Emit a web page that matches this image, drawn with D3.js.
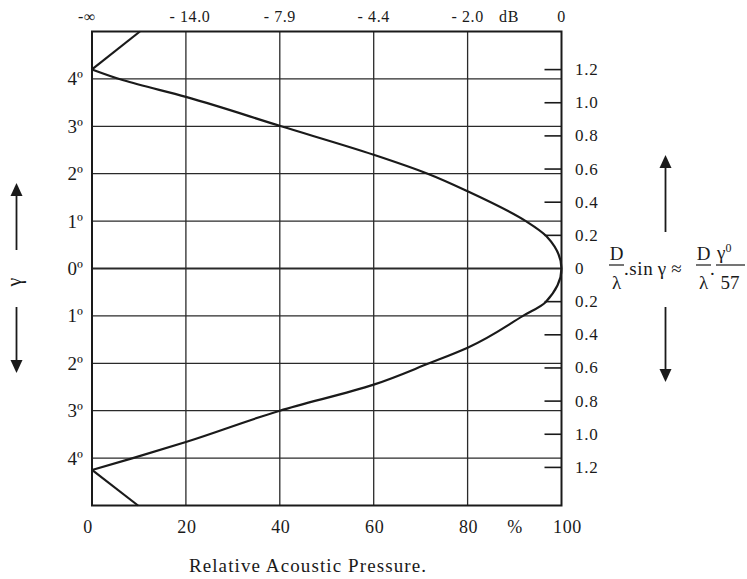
<!DOCTYPE html>
<html>
<head>
<meta charset="utf-8">
<script src="https://cdn.jsdelivr.net/npm/d3@7"></script>
<style>
  html, body { margin: 0; padding: 0; background: #fff; }
  svg { display: block; font-family: "Liberation Serif", "Times New Roman", serif; }
</style>
</head>
<body>
<svg id="chart" width="747" height="579"></svg>
<script>
// Off-axis angle gamma (degrees, + above axis, - below) and relative pressure (%)
const lobeAngle = [4.2, 3.97, 3.62, 3.0, 2.4, 2.0, 1.63, 1.0, 0.68, 0, -0.71, -1.0, -1.67, -2.0, -2.45, -3.0, -3.66, -4.0, -4.25];
const lobePct   = [0,   6.7,  20,   40.3, 60,  71.5, 80,  92.4, 96.8, 100, 96.6, 91.8, 80,   71.8, 60,    40,   20,    8.7,  0];

// first side lobes beyond the null
const sideUpperAngle = [4.2, 5.0];
const sideUpperPct   = [0, 10.2];
const sideLowerAngle = [-4.25, -5.0];
const sideLowerPct   = [0, 9.8];

// axis ticks and labels
const pctTicks   = [0, 20, 40, 60, 80, 100];
const dbLabels   = ["-\u221E", "- 14.0", "- 7.9", "- 4.4", "- 2.0", "0"];
const angleTicks = [4, 3, 2, 1, 0, -1, -2, -3, -4];
const paramTicks = [1.2, 1.0, 0.8, 0.6, 0.4, 0.2, 0, -0.2, -0.4, -0.6, -0.8, -1.0, -1.2];
const dOverLambda = 16.3;

const svg = d3.select("#chart");

const x = d3.scaleLinear().domain([0, 100]).range([92, 561.5]);
const y = d3.scaleLinear().domain([5, -5]).range([31.5, 505.5]);
// D/lambda * gamma/57 expressed on the same vertical range
const yParam = d3.scaleLinear()
  .domain([5 * dOverLambda / 57, -5 * dOverLambda / 57])
  .range(y.range());

const ink = "#1a1a1a";

// grid
const grid = svg.append("g").attr("stroke", "#2a2a2a").attr("stroke-width", 1.3);
grid.selectAll("line.v").data(pctTicks.slice(1, -1)).join("line")
  .attr("class", "v")
  .attr("x1", d => x(d)).attr("x2", d => x(d))
  .attr("y1", y(5)).attr("y2", y(-5));
grid.selectAll("line.h").data(angleTicks).join("line")
  .attr("class", "h")
  .attr("x1", x(0)).attr("x2", x(100))
  .attr("y1", d => y(d)).attr("y2", d => y(d))
  .attr("stroke-width", d => d === 0 ? 1.8 : 1.3);

// right-hand parameter ticks (drawn inward)
svg.append("g").attr("stroke", ink).attr("stroke-width", 1.6)
  .selectAll("line").data(paramTicks.filter(d => d !== 0)).join("line")
  .attr("x1", x(100) - 17).attr("x2", x(100))
  .attr("y1", d => yParam(d)).attr("y2", d => yParam(d));

// frame
svg.append("rect")
  .attr("x", x(0)).attr("y", y(5))
  .attr("width", x(100) - x(0)).attr("height", y(-5) - y(5))
  .attr("fill", "none").attr("stroke", ink).attr("stroke-width", 2);

// directivity curve
const lobe = lobeAngle.map((a, i) => ({ a, p: lobePct[i] }));
const lobeLine = d3.line().x(d => x(d.p)).y(d => y(d.a)).curve(d3.curveMonotoneY);
svg.append("path")
  .attr("d", lobeLine(lobe))
  .attr("fill", "none").attr("stroke", ink).attr("stroke-width", 2.2);

const straight = d3.line().x(d => x(d.p)).y(d => y(d.a));
[[sideUpperAngle, sideUpperPct], [sideLowerAngle, sideLowerPct]].forEach(([as, ps]) => {
  svg.append("path")
    .attr("d", straight(as.map((a, i) => ({ a, p: ps[i] }))))
    .attr("fill", "none").attr("stroke", ink).attr("stroke-width", 2.2);
});

// top dB labels
const dbAxis = svg.append("g").attr("font-size", 16).attr("letter-spacing", 0.6)
  .attr("fill", ink).attr("text-anchor", "middle");
dbAxis.selectAll("text").data(pctTicks).join("text")
  .attr("x", (d, i) => x(d) + (i === 0 ? -5 : i === 1 ? 4 : 0))
  .attr("y", 22)
  .text((d, i) => dbLabels[i]);
dbAxis.append("text").attr("x", 509).attr("y", 22).text("dB");

// bottom % labels
const pctAxis = svg.append("g").attr("font-size", 18).attr("letter-spacing", 0.6)
  .attr("fill", ink).attr("text-anchor", "middle");
pctAxis.selectAll("text").data(pctTicks).join("text")
  .attr("x", d => x(d) + (d === 100 ? 6 : d === 0 ? -4 : 1))
  .attr("y", 533)
  .text(d => d);
pctAxis.append("text").attr("x", 515).attr("y", 533).text("%");

svg.append("text")
  .attr("x", 308).attr("y", 572)
  .attr("font-size", 19).attr("letter-spacing", 1.1)
  .attr("fill", ink).attr("text-anchor", "middle")
  .text("Relative Acoustic Pressure.");

// left angle labels
svg.append("g").attr("font-size", 19).attr("fill", ink).attr("text-anchor", "end")
  .selectAll("text").data(angleTicks).join("text")
  .attr("x", 83).attr("y", d => y(d) + 6.5)
  .text(d => Math.abs(d) + "\u00BA");

// right parameter labels
svg.append("g").attr("font-size", 17).attr("letter-spacing", 0.7).attr("fill", ink)
  .selectAll("text").data(paramTicks).join("text")
  .attr("x", 575).attr("y", d => yParam(d) + 5.5)
  .text(d => d === 0 ? "0" : Math.abs(d).toFixed(1));

// arrows
function arrow(xp, yFrom, yTo) {
  const dir = yTo < yFrom ? -1 : 1;
  svg.append("line")
    .attr("x1", xp).attr("x2", xp)
    .attr("y1", yFrom).attr("y2", yTo - dir * 10)
    .attr("stroke", ink).attr("stroke-width", 1.8);
  svg.append("path")
    .attr("d", `M${xp},${yTo} L${xp - 6},${yTo - dir * 13} L${xp + 6},${yTo - dir * 13} Z`)
    .attr("fill", ink);
}
arrow(16.5, 250, 183);
arrow(16.5, 307, 373);
arrow(665.5, 232, 155);
arrow(665.5, 307, 382);

svg.append("text")
  .attr("transform", "translate(21,282) rotate(-90)")
  .attr("font-size", 20).attr("fill", ink).attr("text-anchor", "middle")
  .text("\u03B3");

// formula: D/lambda . sin gamma ~ D/lambda . gamma0/57
const formula = svg.append("g").attr("font-size", 19).attr("fill", ink);
function frac(cx, num, den, w) {
  formula.append("text").attr("x", cx).attr("y", 260).attr("text-anchor", "middle").text(num);
  formula.append("text").attr("x", cx).attr("y", 289).attr("text-anchor", "middle").text(den);
  formula.append("line").attr("x1", cx - w / 2).attr("x2", cx + w / 2)
    .attr("y1", 265).attr("y2", 265).attr("stroke", ink).attr("stroke-width", 1.2);
}
frac(616.5, "D", "\u03BB", 15);
formula.append("text").attr("x", 624).attr("y", 275).attr("letter-spacing", 0.6)
  .text(".sin\u2009\u03B3\u2009\u2248");
frac(703.5, "D", "\u03BB", 15);
formula.append("text").attr("x", 710).attr("y", 275).text(".");
const g0 = formula.append("text").attr("x", 717).attr("y", 259);
g0.append("tspan").text("\u03B3");
g0.append("tspan").attr("font-size", 12).attr("dy", -7).text("0");
formula.append("text").attr("x", 730).attr("y", 289).attr("text-anchor", "middle").text("57");
formula.append("line").attr("x1", 716).attr("x2", 745).attr("y1", 265).attr("y2", 265)
  .attr("stroke", ink).attr("stroke-width", 1.2);
</script>
</body>
</html>
